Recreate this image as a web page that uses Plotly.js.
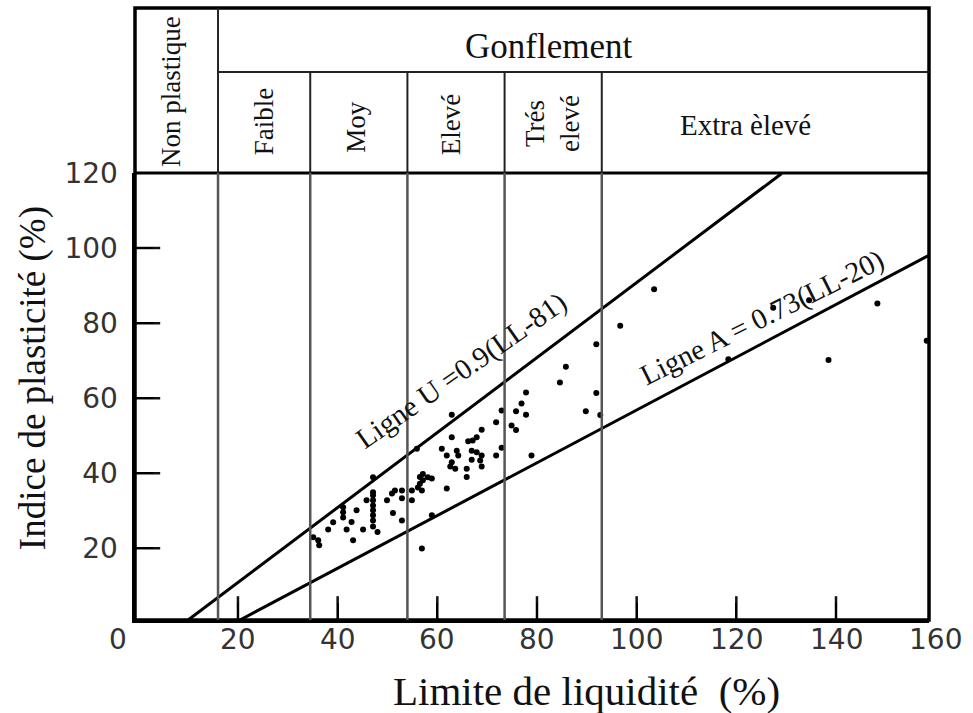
<!DOCTYPE html>
<html>
<head>
<meta charset="utf-8">
<script src="https://cdn.plot.ly/plotly-3.0.1.min.js"></script>
<style>html,body{margin:0;padding:0;background:#fff;}#chart{width:973px;height:713px;}</style>
</head>
<body>
<div id="chart"></div>
<script>
// ---- Data ----
const liquidLimit = [
  35.1, 36.1, 36.3, 38.1, 39.1, 41.1, 41.1, 41.1, 41.8, 42.8, 43.1, 43.8, 45.1, 45.8,
  47.1, 47.1, 47.1, 47.1, 47.1, 47.1, 47.1, 47.1, 47.1, 48.0,
  49.9, 50.9, 51.5, 52.9, 52.9, 51.1, 52.9, 54.9, 54.9, 56.1, 57.1, 56.9, 56.5, 58.1, 58.9,
  56.9, 58.9, 55.9, 61.9, 57.1, 56.5,
  60.9, 61.9, 62.9, 62.9, 63.9, 64.2, 62.9, 62.6, 63.6, 65.9, 65.9, 66.2, 67.1, 67.9,
  66.9, 67.9, 68.9, 66.9, 68.6, 68.9, 68.9, 71.8, 72.9, 71.8, 72.9, 74.9, 75.8, 75.8,
  76.9, 77.8, 77.8, 78.9, 84.6, 85.8, 89.8, 91.9, 91.9, 92.7, 96.7, 103.5,
  118.4, 127.4, 134.6, 138.5, 148.3, 158.2
];
const plasticityIndex = [
  22.9, 22.1, 20.8, 25.0, 26.9, 30.9, 29.6, 28.2, 25.0, 27.0, 22.1, 30.1, 25.0, 32.8,
  38.9, 34.9, 34.1, 32.8, 31.4, 30.1, 28.8, 27.4, 25.8, 24.3,
  32.8, 34.6, 35.4, 35.4, 33.3, 29.4, 27.4, 32.8, 35.4, 36.2, 38.1, 35.4, 37.2, 38.9, 38.6,
  19.9, 28.8, 46.5, 35.9, 39.8, 39.0,
  46.5, 44.7, 49.6, 55.6, 46.0, 44.7, 42.9, 41.8, 41.2, 41.2, 39.0, 48.5, 48.7, 49.6,
  46.0, 45.6, 44.7, 43.6, 43.4, 41.8, 51.6, 53.6, 56.7, 44.7, 46.8, 52.7, 51.5, 56.5,
  58.6, 61.5, 55.6, 44.7, 64.2, 68.4, 56.5, 74.4, 61.4, 55.5, 79.3, 89.0,
  70.4, 84.1, 86.1, 70.2, 85.2, 75.3
];
// Reference lines (end points)
const uLineLL = [10.0, 129.1];
const uLinePI = [0.86, 119.9];
const aLineLL = [20.4, 158.66];
const aLinePI = [0.86, 98.1];
// Swelling zone boundaries (liquid limit) and labels
const nonPlasticBound = 16;
const zoneBounds = [34.5, 54, 73.5, 93];
const zoneLabels = ['Faible', 'Moy', 'Elevé', 'Trés<br>elevé', 'Extra èlevé'];
const xTickVals = [20, 40, 60, 80, 100, 120, 140];
const xLabelVals = [0, 20, 40, 60, 80, 100, 120, 140, 160];
const yTickVals = [20, 40, 60, 80, 100, 120];
const xRange = [-0.66, 158.66];
const yRange = [0.86, 120.02];

// ---- Layout constants ----
const headerTop = 1.369;   // paper y of header top
const headerRow = 1.226;   // paper y of "Gonflement" row line
const serif = 'Liberation Serif, Times New Roman, serif';
const sans = 'DejaVu Sans, Arial, sans-serif';
const ink = '#111';
const tickInk = '#333';
const innerY = yTickVals.slice(0, -1);

const traces = [
  {x: uLineLL, y: uLinePI, mode: 'lines', line: {color: '#000', width: 3}, hoverinfo: 'skip', showlegend: false},
  {x: aLineLL, y: aLinePI, mode: 'lines', line: {color: '#000', width: 3}, hoverinfo: 'skip', showlegend: false},
  {x: liquidLimit, y: plasticityIndex, mode: 'markers', marker: {color: '#000', size: 6}, showlegend: false},
  // inner tick marks: line markers centred on the frame, half clipped away
  {x: xTickVals, y: xTickVals.map(() => yRange[0]), mode: 'markers', hoverinfo: 'skip', showlegend: false,
   marker: {symbol: 'line-ns-open', size: 34, color: '#111', line: {color: '#111', width: 2.5}}},
  {x: innerY.map(() => xRange[0]), y: innerY, mode: 'markers', hoverinfo: 'skip', showlegend: false,
   marker: {symbol: 'line-ew-open', size: 36, color: '#111', line: {color: '#111', width: 2.5}}}
];

const shapes = [];
// outer frame
shapes.push({type: 'rect', xref: 'paper', yref: 'paper', x0: 0, x1: 1, y0: 0, y1: headerTop, line: {color: '#000', width: 3.5}});
// top of plot (PI = 120)
shapes.push({type: 'line', xref: 'paper', yref: 'paper', x0: 0, x1: 1, y0: 1, y1: 1, line: {color: '#000', width: 3}});
// Gonflement row line
shapes.push({type: 'line', xref: 'x', yref: 'paper', x0: nonPlasticBound, x1: xRange[1], y0: headerRow, y1: headerRow, line: {color: '#222', width: 2}});
// Non plastique boundary
shapes.push({type: 'line', xref: 'x', yref: 'paper', x0: nonPlasticBound, x1: nonPlasticBound, y0: 1, y1: headerTop, line: {color: '#222', width: 2}});
shapes.push({type: 'line', xref: 'x', yref: 'paper', x0: nonPlasticBound, x1: nonPlasticBound, y0: 0, y1: 1, line: {color: '#555', width: 2.5}});
zoneBounds.forEach(b => {
  shapes.push({type: 'line', xref: 'x', yref: 'paper', x0: b, x1: b, y0: 1, y1: headerRow, line: {color: '#222', width: 2}});
  shapes.push({type: 'line', xref: 'x', yref: 'paper', x0: b, x1: b, y0: 0, y1: 1, line: {color: '#555', width: 2.5}});
});

const annotations = [];
function ann(o) { annotations.push(Object.assign({showarrow: false, xanchor: 'center', yanchor: 'middle'}, o)); }
// header texts
ann({text: 'Non plastique', xref: 'paper', yref: 'paper', x: 0.0453, y: 1.1834, textangle: -90, font: {family: serif, size: 27, color: ink}});
ann({text: 'Gonflement', xref: 'paper', yref: 'paper', x: 0.521, y: 1.283, font: {family: serif, size: 35, color: ink}});
const colEdges = [nonPlasticBound].concat(zoneBounds, [xRange[1]]);
const colOffsets = [0, -0.7, -1, 0, -4];
const colY = [1.116, 1.104, 1.107, 1.110, 1.107];
zoneLabels.forEach((lab, i) => {
  const c = (colEdges[i] + colEdges[i + 1]) / 2 + colOffsets[i];
  const rotated = i < 4;
  ann({text: lab, xref: 'x', yref: 'paper', x: c, y: colY[i], textangle: rotated ? -90 : 0,
       font: {family: serif, size: rotated ? 27 : 29, color: ink}});
});
// line labels
ann({text: 'Ligne U =0.9(LL-81)', xref: 'x', yref: 'y', x: 64.9, y: 67.3, textangle: -35, font: {family: serif, size: 29, color: ink}});
ann({text: 'Ligne A = 0.73(LL-20)', xref: 'x', yref: 'y', x: 125.2, y: 81.6, textangle: -26.5, font: {family: serif, size: 29, color: ink}});
// axis titles
ann({text: 'Limite de liquidité  (%)', xref: 'paper', yref: 'paper', x: 0.569, y: -0.158, font: {family: serif, size: 41, color: ink}});
ann({text: 'Indice de plasticité (%)', xref: 'paper', yref: 'paper', x: -0.1285, y: 0.541, textangle: -90, font: {family: serif, size: 37, color: ink}});
// x tick labels (the "0" sits left of the frame, as in the original)
const xSpan = xRange[1] - xRange[0];
xLabelVals.forEach(v => {
  const shift = v === 0 ? -4 : 0;
  ann({text: String(v), xref: 'paper', yref: 'paper', x: (v + shift - xRange[0]) / xSpan, y: -0.0447,
       font: {family: sans, size: 28, color: tickInk}});
});

const layout = {
  width: 973, height: 713,
  margin: {l: 135, r: 44, t: 173, b: 93, pad: 0},
  paper_bgcolor: '#fff', plot_bgcolor: '#fff',
  showlegend: false,
  xaxis: {
    range: xRange, showgrid: false, zeroline: false, showline: true, linecolor: '#000', linewidth: 3, mirror: false,
    tickmode: 'array', tickvals: xTickVals, ticks: 'inside', ticklen: 17, tickwidth: 2, tickcolor: '#000',
    showticklabels: false
  },
  yaxis: {
    range: yRange, showgrid: false, zeroline: false, showline: true, linecolor: '#000', linewidth: 3.5, mirror: false,
    tickmode: 'array', tickvals: yTickVals, ticks: 'inside', ticklen: 18, tickwidth: 2, tickcolor: '#000',
    tickfont: {family: sans, size: 28, color: tickInk}, ticklabelstandoff: 8
  },
  shapes: shapes,
  annotations: annotations
};

Plotly.newPlot('chart', traces, layout, {staticPlot: true, displayModeBar: false});
</script>
</body>
</html>
